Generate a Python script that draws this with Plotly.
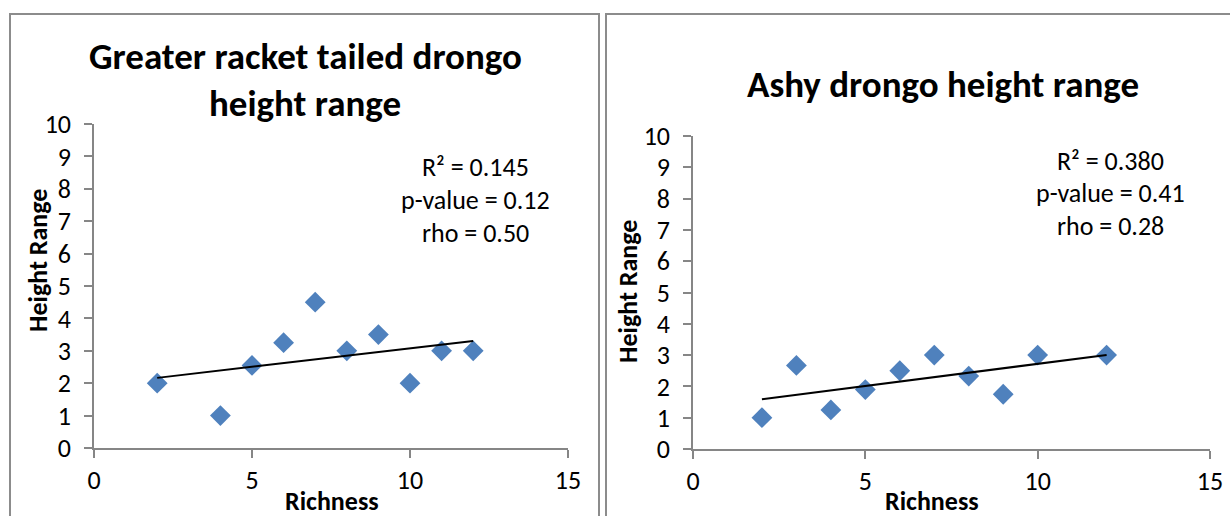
import numpy as np
import plotly.graph_objects as go

# Greater racket tailed drongo
richness_grt = [2, 4, 5, 6, 7, 8, 9, 10, 11, 12]
height_grt = [2, 1, 2.55, 3.25, 4.5, 3, 3.5, 2, 3, 3]
stats_grt = ["R² = 0.145", "p-value = 0.12", "rho = 0.50"]

# Ashy drongo
richness_ashy = [2, 3, 4, 5, 6, 7, 8, 9, 10, 12]
height_ashy = [1, 2.67, 1.25, 1.9, 2.5, 3, 2.33, 1.75, 3, 3]
stats_ashy = ["R² = 0.380", "p-value = 0.41", "rho = 0.28"]

x_ticks = [0, 5, 10, 15]
y_ticks = list(range(0, 11))

W, H = 1230, 516
FONT = "Carlito, Lato, sans-serif"
MARKER_BLUE = "#4F81BD"
AXIS_GREY = "#868686"


def px(x):
    return x / W


def py(y):
    return 1 - y / H


fig = go.Figure()


def add_panel(xs, ys, xaxis, yaxis):
    fig.add_trace(go.Scatter(
        x=xs, y=ys, mode="markers", xaxis=xaxis, yaxis=yaxis,
        marker=dict(symbol="diamond", size=16, color=MARKER_BLUE,
                    line=dict(width=0)),
        showlegend=False, hoverinfo="skip",
    ))
    # least-squares linear trend line across the data range
    slope, intercept = np.polyfit(xs, ys, 1)
    xl = [min(xs), max(xs)]
    yl = [slope * v + intercept for v in xl]
    fig.add_trace(go.Scatter(
        x=xl, y=yl, mode="lines", xaxis=xaxis, yaxis=yaxis,
        line=dict(color="black", width=2),
        showlegend=False, hoverinfo="skip",
    ))


add_panel(richness_grt, height_grt, "x", "y")
add_panel(richness_ashy, height_ashy, "x2", "y2")

axis_common = dict(
    showgrid=False, zeroline=False, showline=True, linecolor=AXIS_GREY,
    linewidth=1.5, ticks="outside", tickcolor=AXIS_GREY, ticklen=8,
    tickwidth=1.5, tickfont=dict(family=FONT, size=26, color="black"),
    fixedrange=True, automargin=False,
)
y_extra = dict(ticklabelstandoff=8)

fig.update_layout(
    width=W, height=H,
    margin=dict(l=0, r=0, t=0, b=0, pad=0, autoexpand=False),
    paper_bgcolor="white", plot_bgcolor="white",
    xaxis=dict(domain=[px(94), px(568)], range=[0, 15], tickvals=x_ticks,
               anchor="y", **axis_common),
    yaxis=dict(domain=[py(448), py(124)], range=[0, 10], tickvals=y_ticks,
               anchor="x", **axis_common, **y_extra),
    xaxis2=dict(domain=[px(693), px(1210)], range=[0, 15], tickvals=x_ticks,
                anchor="y2", **axis_common),
    yaxis2=dict(domain=[py(449), py(136)], range=[0, 10], tickvals=y_ticks,
                anchor="x2", **axis_common, **y_extra),
)

# chart frames
frame = dict(type="rect", xref="paper", yref="paper",
             line=dict(color="#8C8C8C", width=2), fillcolor="rgba(0,0,0,0)")
fig.add_shape(x0=px(10), x1=px(599), y0=py(530), y1=py(14), **frame)
fig.add_shape(x0=px(606), x1=px(1245), y0=py(530), y1=py(14), **frame)

annotations = []


def text(x, y, s, size, bold=False, angle=0):
    annotations.append(dict(
        x=px(x), y=py(y), xref="paper", yref="paper", text=s,
        showarrow=False, xanchor="center", yanchor="middle", textangle=angle,
        font=dict(family=FONT, size=size, color="black",
                  weight="bold" if bold else "normal"),
    ))


# titles
text(305, 57, "Greater racket tailed drongo", 37, bold=True)
text(305, 103, "height range", 37, bold=True)
text(943, 84, "Ashy drongo height range", 37, bold=True)

# axis titles
for cx in (332, 932):
    text(cx, 501, "Richness", 26, bold=True)
text(38, 261, "Height Range", 26, bold=True, angle=-90)
text(628, 292, "Height Range", 26, bold=True, angle=-90)

# regression statistics
for s, y in zip(stats_grt, (167, 200, 233)):
    text(476, y, s, 26)
for s, y in zip(stats_ashy, (161, 193, 226)):
    text(1110, y, s, 26)

fig.update_layout(annotations=annotations)
fig.write_html("out.html", config=dict(displayModeBar=False))
